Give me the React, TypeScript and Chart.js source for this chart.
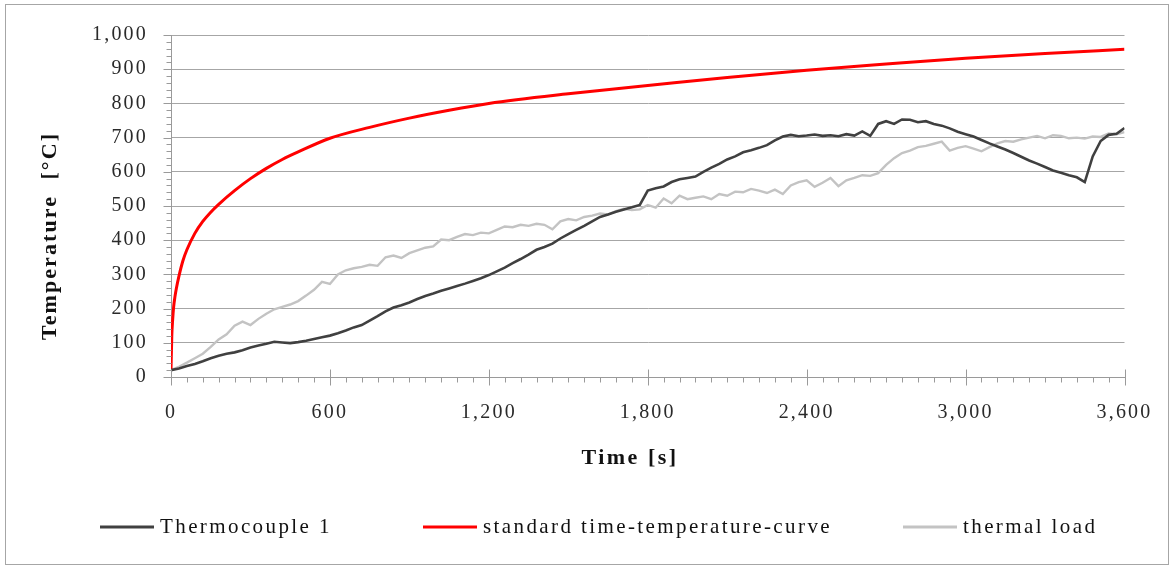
import React, { useEffect, useRef } from 'react';
import { Chart, registerables } from 'chart.js';

Chart.register(...registerables);

// ---------- data ----------
const sampleTimes = [
  0, 30, 60, 90, 120, 150, 180, 210, 240, 270,
  300, 330, 360, 390, 420, 450, 480, 510, 540, 570,
  600, 630, 660, 690, 720, 750, 780, 810, 840, 870,
  900, 930, 960, 990, 1020, 1050, 1080, 1110, 1140, 1170,
  1200, 1230, 1260, 1290, 1320, 1350, 1380, 1410, 1440, 1470,
  1500, 1530, 1560, 1590, 1620, 1650, 1680, 1710, 1740, 1770,
  1800, 1830, 1860, 1890, 1920, 1950, 1980, 2010, 2040, 2070,
  2100, 2130, 2160, 2190, 2220, 2250, 2280, 2310, 2340, 2370,
  2400, 2430, 2460, 2490, 2520, 2550, 2580, 2610, 2640, 2670,
  2700, 2730, 2760, 2790, 2820, 2850, 2880, 2910, 2940, 2970,
  3000, 3030, 3060, 3090, 3120, 3150, 3180, 3210, 3240, 3270,
  3300, 3330, 3360, 3390, 3420, 3450, 3480, 3510, 3540, 3570,
  3600,
];

const thermocouple1 = [
  20, 25, 32, 38, 46, 55, 62, 68, 72, 78,
  86, 92, 97, 103, 101, 99, 102, 106, 111, 116,
  121, 128, 136, 145, 152, 165, 178, 192, 203, 210,
  218, 228, 237, 244, 252, 259, 266, 273, 281, 289,
  298, 309, 320, 333, 345, 358, 372, 380, 390, 405,
  418, 430, 442, 455, 468, 475, 483, 490, 496, 503,
  545, 552, 557, 570, 578, 582, 586, 600, 612, 623,
  636, 645, 657, 663, 670, 678, 692, 703, 708, 704,
  706, 709, 705, 707, 704, 710, 706, 718, 705, 740,
  748, 740, 753, 752, 745, 748, 740, 735, 727, 717,
  710, 703, 693, 683, 674, 665, 655, 644, 633, 624,
  614, 604, 597, 590, 584, 570, 645, 690, 708, 711,
  728,
];

const thermalLoad = [
  20, 30, 42, 55, 68, 88, 110, 125, 150, 162,
  152, 170, 185, 198, 205, 212, 222, 238, 255, 278,
  272, 300, 312, 318, 322, 328, 325, 350, 355, 348,
  362, 370, 378, 382, 402, 400, 410, 418, 415, 422,
  420, 430, 440, 438, 445, 442, 448, 445, 432, 455,
  462, 458, 468, 472, 478, 475, 485, 492, 488, 490,
  503, 495, 522, 508, 530, 520, 524, 528, 520, 535,
  530, 542, 540, 550, 545, 538, 548, 535, 560, 570,
  575, 556, 568, 582, 558, 575, 582, 590, 588, 596,
  620, 640, 655, 662, 672, 676, 682, 688, 662, 670,
  675, 668, 660, 672, 683, 690, 688, 695, 700, 705,
  698, 707, 705, 698, 700, 697, 703, 702, 712, 710,
  716,
];

const stdTimes = [
  0, 3, 6, 10, 15, 20, 30, 45, 60, 90, 120, 150, 180, 240, 300, 360, 420, 480,
  600, 750, 900, 1050, 1200, 1500, 1800, 2100, 2400, 2700, 3000, 3300, 3600,
];
const stdCurve = [
  20, 120, 165, 205, 235, 258, 295, 340, 372, 420, 455, 482, 505, 545, 580, 610, 636, 658,
  698, 730, 757, 780, 800, 828, 852, 876, 897, 915, 932, 946, 958,
];

const seriesNames = ['Thermocouple 1', 'standard time-temperature-curve', 'thermal load'];
const seriesColors = ['#404040', '#ff0000', '#c3c3c3'];

const xTitle = 'Time [s]';
const yTitle = 'Temperature  [°C]';

const fmt = (v: number) => Number(v).toLocaleString('en-US');

const FONT = "'Liberation Serif', 'Times New Roman', serif";
const AXIS_COLOR = '#9a9a9a';

// ---------- plugin: frame, ticks, titles, legend ----------
const decorPlugin = {
  id: 'decor',
  beforeDraw(chart: any) {
    const { ctx } = chart;
    ctx.save();
    ctx.fillStyle = '#ffffff';
    ctx.fillRect(0, 0, chart.width, chart.height);
    ctx.strokeStyle = '#a6a6a6';
    ctx.lineWidth = 1;
    ctx.strokeRect(5.5, 4.5, chart.width - 8, chart.height - 8);
    ctx.restore();
    // widen the serif glyph spacing like the reference rendering
    try { (ctx as any).letterSpacing = '2.2px'; } catch (e) { /* ignore */ }
  },
  afterDraw(chart: any) {
    const { ctx } = chart;
    const x = chart.scales.x;
    const y = chart.scales.y;
    ctx.save();
    ctx.strokeStyle = AXIS_COLOR;
    ctx.lineWidth = 1;
    ctx.beginPath();
    // x axis ticks
    const axisY = Math.round(y.getPixelForValue(0)) + 0.5;
    for (let v = x.min; v <= x.max + 0.001; v += 60) {
      const px = Math.round(x.getPixelForValue(v)) + 0.5;
      const major = Math.abs(v % 600) < 0.001;
      if (major) {
        ctx.moveTo(px, axisY - 8);
        ctx.lineTo(px, axisY + 8);
      } else {
        ctx.moveTo(px, axisY);
        ctx.lineTo(px, axisY + 5);
      }
    }
    // y axis ticks
    const axisX = Math.round(x.getPixelForValue(0)) + 0.5;
    for (let v = y.min; v <= y.max + 0.001; v += 20) {
      const py = Math.round(y.getPixelForValue(v)) + 0.5;
      const major = Math.abs(v % 100) < 0.001;
      ctx.moveTo(axisX - (major ? 8 : 5), py);
      ctx.lineTo(axisX, py);
    }
    ctx.stroke();

    // axis titles
    ctx.fillStyle = '#111';
    ctx.font = `bold 22px ${FONT}`;
    ctx.textAlign = 'center';
    ctx.textBaseline = 'middle';
    (ctx as any).letterSpacing = '2.5px';
    ctx.fillText(xTitle, 630, 458);
    ctx.save();
    (ctx as any).letterSpacing = '2.1px';
    ctx.translate(50, 236);
    ctx.rotate(-Math.PI / 2);
    ctx.fillText(yTitle, 0, 0);
    ctx.restore();

    // legend
    const slots = [100, 423, 903];
    const legendY = 527;
    ctx.font = `21px ${FONT}`;
    ctx.textAlign = 'left';
    ctx.textBaseline = 'middle';
    (ctx as any).letterSpacing = '2.4px';
    chart.data.datasets.forEach((ds: any, i: number) => {
      const lx = slots[i];
      ctx.strokeStyle = ds.borderColor;
      ctx.lineWidth = 3;
      ctx.beginPath();
      ctx.moveTo(lx, legendY);
      ctx.lineTo(lx + 54, legendY);
      ctx.stroke();
      ctx.fillStyle = '#111';
      ctx.fillText(ds.label, lx + 60, legendY);
    });
    ctx.restore();
  },
};

export default function App() {
  const canvasRef = useRef<HTMLCanvasElement | null>(null);

  useEffect(() => {
    document.body.style.margin = '0';
    const canvas = canvasRef.current;
    if (!canvas) return;

    const chart = new Chart(canvas, {
      type: 'line',
      data: {
        datasets: [
          {
            label: seriesNames[0],
            data: sampleTimes.map((t, i) => ({ x: t, y: thermocouple1[i] })),
            borderColor: seriesColors[0],
            borderWidth: 2.6,
            pointRadius: 0,
            tension: 0,
          },
          {
            label: seriesNames[1],
            data: stdTimes.map((t, i) => ({ x: t, y: stdCurve[i] })),
            borderColor: seriesColors[1],
            borderWidth: 3,
            pointRadius: 0,
            cubicInterpolationMode: 'monotone',
          },
          {
            label: seriesNames[2],
            data: sampleTimes.map((t, i) => ({ x: t, y: thermalLoad[i] })),
            borderColor: seriesColors[2],
            borderWidth: 2.4,
            pointRadius: 0,
            tension: 0,
          },
        ],
      },
      options: {
        animation: false,
        responsive: false,
        events: [],
        layout: { padding: { left: 0, right: 45, top: 35, bottom: 0 } },
        plugins: {
          legend: { display: false },
          tooltip: { enabled: false },
        },
        scales: {
          x: {
            type: 'linear',
            min: 0,
            max: 3600,
            afterFit: (s: any) => { s.height = 191; },
            ticks: {
              stepSize: 600,
              callback: (v: any) => fmt(v),
              font: { family: FONT, size: 20 },
              color: '#2a2a2a',
              padding: 24,
              maxRotation: 0,
            },
            grid: { display: false, drawTicks: false },
            border: { display: true, color: AXIS_COLOR, width: 1 },
          },
          y: {
            type: 'linear',
            min: 0,
            max: 1000,
            afterFit: (s: any) => { s.width = 171; },
            ticks: {
              stepSize: 100,
              callback: (v: any) => fmt(v),
              font: { family: FONT, size: 20 },
              color: '#2a2a2a',
              padding: 23,
            },
            grid: { color: '#a6a6a6', drawTicks: false, lineWidth: 1 },
            border: { display: true, color: AXIS_COLOR, width: 1 },
          },
        },
      },
      plugins: [decorPlugin],
    });

    return () => chart.destroy();
  }, []);

  return (
    <div style={{ width: 1171, height: 568 }}>
      <canvas ref={canvasRef} width={1171} height={568} />
    </div>
  );
}
